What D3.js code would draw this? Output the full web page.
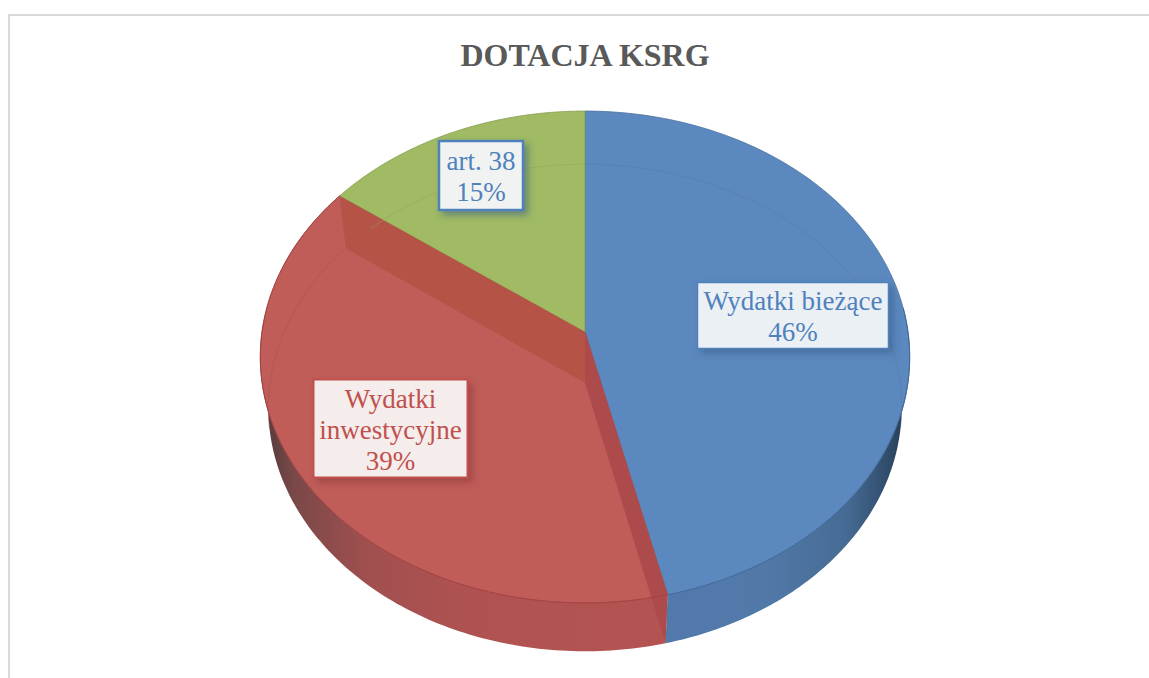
<!DOCTYPE html>
<html><head><meta charset="utf-8">
<script src="https://cdn.jsdelivr.net/npm/d3@7/dist/d3.min.js"></script>
<style>html,body{margin:0;padding:0;background:#fff}svg{display:block}text{font-family:"Liberation Serif",serif}</style>
</head><body><svg id="c" width="1149" height="678"></svg>
<script>
const chartTitle = "DOTACJA KSRG";
const categories = ["Wydatki bieżące", "Wydatki inwestycyjne", "art. 38"];
const values = [46.3, 38.8, 14.9];
const percentLabels = ["46%", "39%", "15%"];
const labelLines = [["Wydatki bieżące"], ["Wydatki", "inwestycyjne"], ["art. 38"]];
const topColors = ["#5b88be", "#c05d59", "#a0bb63"];
const textColors = ["#4f81bd", "#c0504d", "#4f81bd"];
const boxFills = ["#ebf0f5", "#f5ecec", "#f0f3f1"];
const boxStrokes = ["#4f81bd", "#c0504d", "#4f81bd"];
const boxes = [[697.5, 282.5, 191, 66, 1.5], [313.5, 379.5, 154, 98, 2], [439, 141, 84, 69, 2.5]];

const svg = d3.select("#c");
const defs = svg.append("defs");

// page frame
svg.append("path").attr("d", "M9,678V15H1149").attr("fill", "none").attr("stroke", "#dadada").attr("stroke-width", 2);

// perspective projection of a pie disc
const K = 0.1016, CX = 585;
const topDisc = {a: 323, b: 243.4, cy: 332};
const botDisc = {a: 315, b: 241, cy: 383};
const proj = (t, d, r = 1) => {
  const u = Math.sin(t) * r, v = -Math.cos(t) * r, w = 1 - K * v;
  return [CX + d.a * u / w, d.cy + d.b * v / w];
};
const line = d3.line();
const arcPts = (t0, t1, d) => d3.range(0, 121).map(i => proj(t0 + (t1 - t0) * i / 120, d));

const arcs = d3.pie().sort(null).value(d => d)(values);

// side wall gradients
function gradient(id, stops) {
  const g = defs.append("linearGradient").attr("id", id).attr("gradientUnits", "userSpaceOnUse")
    .attr("x1", 261).attr("x2", 911).attr("y1", 0).attr("y2", 0);
  stops.forEach(s => g.append("stop").attr("offset", s[0]).attr("stop-color", s[1]));
}
gradient("wallRed", [[0, "#4f3a3a"], [0.05, "#7a4848"], [0.16, "#a04f4f"], [0.3, "#ae5251"], [0.62, "#b45452"]]);
gradient("wallBlue", [[0.6, "#5279ac"], [0.78, "#5179a8"], [0.9, "#466b94"], [0.97, "#2f4a68"], [1, "#1f3347"]]);

const g = svg.append("g");
// outer walls: only the near part of each slice
const wallRange = [[Math.PI / 2 - 0.1, arcs[0].endAngle, "wallBlue"], [arcs[1].startAngle, 1.5 * Math.PI + 0.1, "wallRed"]];
wallRange.forEach(w => {
  const pts = arcPts(w[0], w[1], topDisc).concat(arcPts(w[1], w[0], botDisc));
  g.append("path").attr("d", line(pts) + "Z").attr("fill", `url(#${w[2]})`);
});

// top faces
arcs.forEach((a, i) => {
  const pts = [proj(0, topDisc, 0)].concat(arcPts(a.startAngle, a.endAngle, topDisc));
  g.append("path").attr("d", line(pts) + "Z").attr("fill", topColors[i])
    .attr("stroke", d3.color(topColors[i]).darker(0.5)).attr("stroke-width", 0.8);
});

// interior cut faces seen through the red slice
function cutFace(t, fill) {
  const pts = [proj(t, topDisc), proj(0, topDisc, 0), proj(0, botDisc, 0), proj(t, botDisc)];
  g.append("path").attr("d", line(pts) + "Z").attr("fill", fill);
}
cutFace(arcs[1].endAngle, "#b55347");
cutFace(arcs[1].startAngle, "#ad4a4b");
// the cut-face edges
g.append("path").attr("d", line(arcPts(arcs[1].startAngle, arcs[1].endAngle, topDisc)))
  .attr("fill", "none").attr("stroke", "#a23f3f").attr("stroke-width", 0.9);
g.append("path").attr("d", line(arcPts(Math.PI / 2 - 0.1, arcs[0].endAngle, topDisc)))
  .attr("fill", "none").attr("stroke", "#3f6796").attr("stroke-width", 0.9);

// far rim of the lower disc, faintly visible through the top
g.append("path").attr("d", line(arcPts(arcs[2].startAngle + 0.12, arcs[2].endAngle, botDisc))).attr("fill", "none")
  .attr("stroke", d3.color(topColors[2]).darker(0.35)).attr("stroke-width", 0.9).attr("opacity", 0.55);
g.append("path").attr("d", line(arcPts(0, Math.PI * 0.56, botDisc))).attr("fill", "none")
  .attr("stroke", d3.color(topColors[0]).darker(0.4)).attr("stroke-width", 0.9).attr("opacity", 0.45);
g.append("path").attr("d", line(arcPts(1.44 * Math.PI, arcs[1].endAngle, botDisc))).attr("fill", "none")
  .attr("stroke", d3.color(topColors[1]).darker(0.4)).attr("stroke-width", 0.9).attr("opacity", 0.6);

// title
svg.append("text").attr("x", 585).attr("y", 66).attr("text-anchor", "middle")
  .attr("font-size", 32).attr("font-weight", 700).attr("fill", "#595959").text(chartTitle);

// data labels
categories.forEach((c, i) => {
  const [x, y, w, h, sw] = boxes[i];
  const f = defs.append("filter").attr("id", "sh" + i).attr("x", "-20%").attr("y", "-20%").attr("width", "150%").attr("height", "150%");
  f.append("feDropShadow").attr("dx", 4).attr("dy", 4).attr("stdDeviation", 3.5)
    .attr("flood-color", d3.color(boxStrokes[i]).darker(1)).attr("flood-opacity", 0.55);
  svg.append("rect").attr("x", x).attr("y", y).attr("width", w).attr("height", h)
    .attr("fill", boxFills[i]).attr("stroke", boxStrokes[i]).attr("stroke-width", sw).attr("filter", `url(#sh${i})`);
  const lines = labelLines[i].concat(percentLabels[i]);
  const lh = 31, cx = x + w / 2;
  const y0 = y + h / 2 - (lines.length - 1) * lh / 2 + 10;
  lines.forEach((t, j) => svg.append("text").attr("x", cx).attr("y", y0 + j * lh)
    .attr("text-anchor", "middle").attr("font-size", 27).attr("fill", textColors[i]).text(t));
});
</script></body></html>
